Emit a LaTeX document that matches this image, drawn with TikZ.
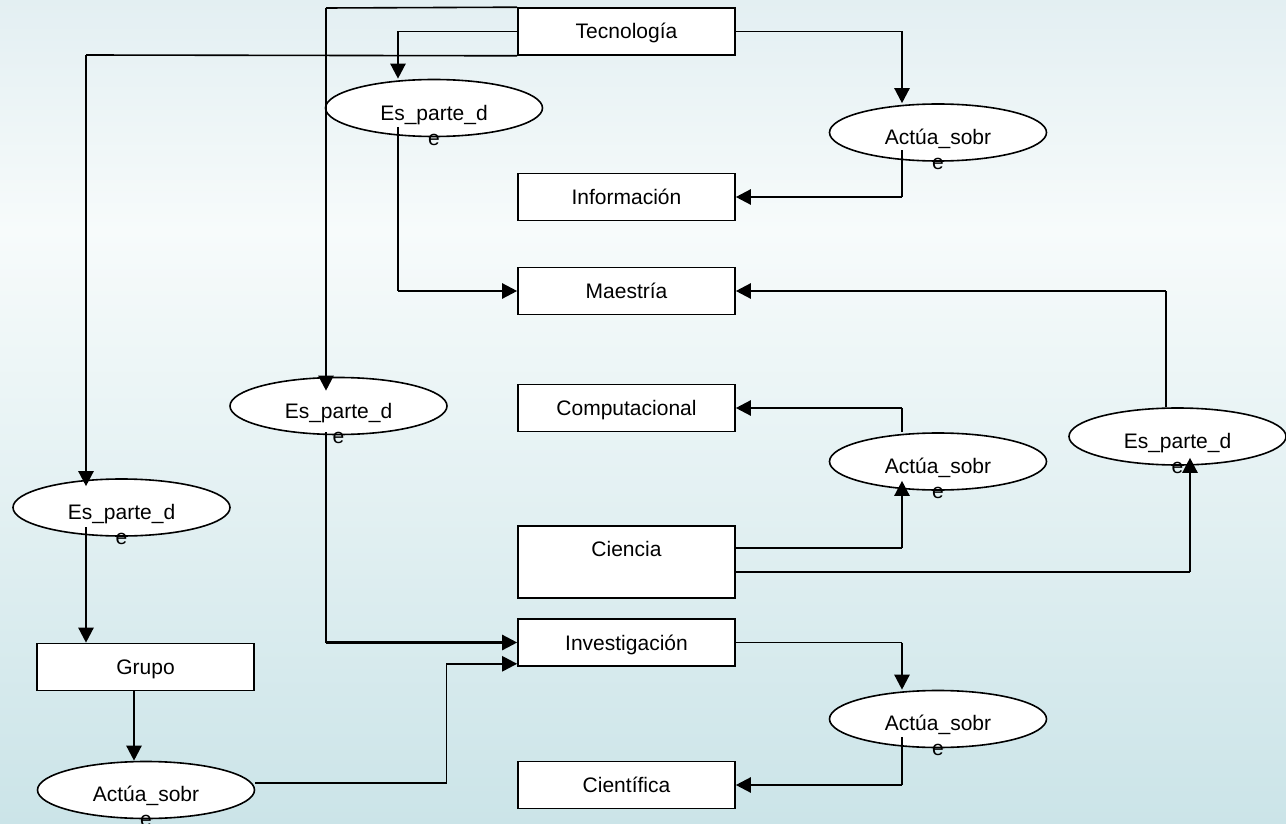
\documentclass[tikz,border=0pt]{standalone}
\usepackage{fontspec}
\setmainfont{Liberation Sans}
\usetikzlibrary{arrows.meta,shapes.geometric,calc}
\definecolor{bgtop}{HTML}{E3EFF2}
\definecolor{bgmid}{HTML}{F7FBFB}
\definecolor{bgbot}{HTML}{CBE4E8}
\begin{document}
\begin{tikzpicture}[x=1pt,y=-1pt,
  box/.style={draw,line width=1.6pt,fill=white,minimum width=217pt,minimum height=47pt,inner sep=0pt,text height=17pt,text depth=2pt,font=\fontsize{21}{25}\selectfont},
  rel/.style={draw,ellipse,line width=1.6pt,fill=white,minimum width=217pt,minimum height=57pt,inner sep=0pt},
  lbl/.style={align=center,inner sep=0pt,anchor=north,font=\fontsize{21}{25}\selectfont},
  link/.style={line width=1.6pt},
  arr/.style={line width=2.4pt,-{Triangle[length=15pt,width=15pt]}}
]
\useasboundingbox (0,0) rectangle (1286,824);
% background gradient
\shade[top color=bgtop,bottom color=bgmid] (0,0) rectangle (1286,231);
\shade[top color=bgmid,bottom color=bgbot] (0,230) rectangle (1286,824);

% concept boxes
\node[box] (tec) at (626.5,31.5) {Tecnología};
\node[box] (inf) at (626.5,197) {Información};
\node[box] (mae) at (626.5,291) {Maestría};
\node[box] (com) at (626.5,408) {Computacional};
\node[box,minimum height=72pt] (cie) at (626.5,562) {};
\node[box] (inv) at (626.5,642.5) {Investigación};
\node[box] (cif) at (626.5,785) {Científica};
\node[box] (gru) at (145.5,667) {Grupo};

% relation ellipses
\node[rel] (r1) at (434,108) {};
\node[rel] (a1) at (938,132.5) {};
\node[rel] (r2) at (338.5,406) {};
\node[rel] (a2) at (938,461.5) {};
\node[rel] (r3) at (1177.5,436.5) {};
\node[rel] (r4) at (121.5,507.5) {};
\node[rel] (a3) at (938,719) {};
\node[rel] (a4) at (146,790) {};

% Tecnología -> Es_parte_de (middle)
\coordinate (b1) at (326,8);
\draw[link] (tec.north west) -- (b1);
\draw[arr] (b1) -- ($(b1 |- r2.north)+(0,14)$);

% Tecnología -> Es_parte_de (top)
\coordinate (b2) at (398,31.5);
\draw[link] (tec.west) -- (b2);
\draw[arr] (b2) -- (b2 |- r1.north);

% Tecnología -> Es_parte_de (left)
\coordinate (b3) at (86,55);
\draw[link] (tec.south west) -- (b3);
\draw[arr] (b3) -- ($(b3 |- r4.north)+(0,8)$);

% Tecnología -> Actúa_sobre (top)
\coordinate (b4) at (902,31.5);
\draw[link] (tec.east) -- (b4);
\draw[arr] (b4) -- (b4 |- a1.north);

% Actúa_sobre (top) -> Información
\coordinate (s5) at ($(a1.center)+(-36,18)$);
\draw[link] (s5) -- (s5 |- inf.east);
\draw[arr] (s5 |- inf.east) -- (inf.east);

% Es_parte_de (top) -> Maestría
\coordinate (s6) at ($(r1.center)+(-36,19)$);
\draw[link] (s6) -- (s6 |- mae.west);
\draw[arr] (s6 |- mae.west) -- (mae.west);

% Es_parte_de (right) -> Maestría
\coordinate (s7) at ($(r3.north)+(-11.5,0)$);
\draw[link] (s7) -- (s7 |- mae.east);
\draw[arr] (s7 |- mae.east) -- (mae.east);

% Actúa_sobre (middle) -> Computacional
\coordinate (s8) at ($(a2.north)+(-36,0)$);
\draw[link] (s8) -- (s8 |- com.east);
\draw[arr] (s8 |- com.east) -- (com.east);

% Ciencia -> Actúa_sobre (middle)
\coordinate (s9) at ($(cie.east)+(0,-14)$);
\draw[link] (s9) -- (s9 -| s8);
\draw[arr] (s9 -| s8) -- ($(s8 |- a2.south)+(0,-10)$);

% Ciencia -> Es_parte_de (right)
\coordinate (s10) at ($(cie.east)+(0,10)$);
\coordinate (x10) at ($(r3.south)+(12.5,0)$);
\draw[link] (s10) -- (s10 -| x10);
\draw[arr] (s10 -| x10) -- ($(x10)+(0,-8)$);

% Es_parte_de (middle) -> Investigación
\coordinate (s11) at ($(r2.center)+(-12.5,26)$);
\draw[link] (s11) -- (s11 |- inv.west);
\draw[arr] (s11 |- inv.west) -- (inv.west);

% Actúa_sobre (bottom left) -> Investigación
\coordinate (s12) at ($(a4.east)+(0,-7)$);
\coordinate (k12) at ($(s12)+(191,0)$);
\coordinate (k12b) at ($(k12 |- inv.south)+(0,-3)$);
\draw[link] (s12) -- (k12) -- (k12b);
\draw[arr] (k12b) -- (k12b -| inv.west);

% Investigación -> Actúa_sobre (bottom right)
\coordinate (k13) at ($(inv.east -| a3.north)+(-36,0)$);
\draw[link] (inv.east) -- (k13);
\draw[arr] (k13) -- (k13 |- a3.north);

% Actúa_sobre (bottom right) -> Científica
\coordinate (s14) at ($(a3.center)+(-36,18)$);
\draw[link] (s14) -- (s14 |- cif.east);
\draw[arr] (s14 |- cif.east) -- (cif.east);

% Es_parte_de (left) -> Grupo
\coordinate (s15) at ($(r4.center)+(-35.5,19.5)$);
\draw[arr] (s15) -- (s15 |- gru.north);

% Grupo -> Actúa_sobre (bottom left)
\coordinate (s16) at ($(gru.south)+(-11.5,0)$);
\draw[arr] (s16) -- (s16 |- a4.north);

% texts of the relations (wrapped as in the source)
\node[lbl] (r1t) at ([yshift=3pt]r1.center) {Es\_parte\_d\\e};
\node[lbl] (a1t) at ([yshift=4pt]a1.center) {Actúa\_sobr\\e};
\node[lbl] (r2t) at ([yshift=3pt]r2.center) {Es\_parte\_d\\e};
\node[lbl] (a2t) at ([yshift=4pt]a2.center) {Actúa\_sobr\\e};
\node[lbl] (r3t) at ([yshift=3pt]r3.center) {Es\_parte\_d\\e};
\node[lbl] (r4t) at ([yshift=3pt]r4.center) {Es\_parte\_d\\e};
\node[lbl] (a3t) at ([yshift=4pt]a3.center) {Actúa\_sobr\\e};
\node[lbl] (a4t) at ([yshift=4pt]a4.center) {Actúa\_sobr\\e};
\node[lbl,anchor=base] (ciet) at ([yshift=-31.5pt]cie.north) {Ciencia};
\end{tikzpicture}
\end{document}
